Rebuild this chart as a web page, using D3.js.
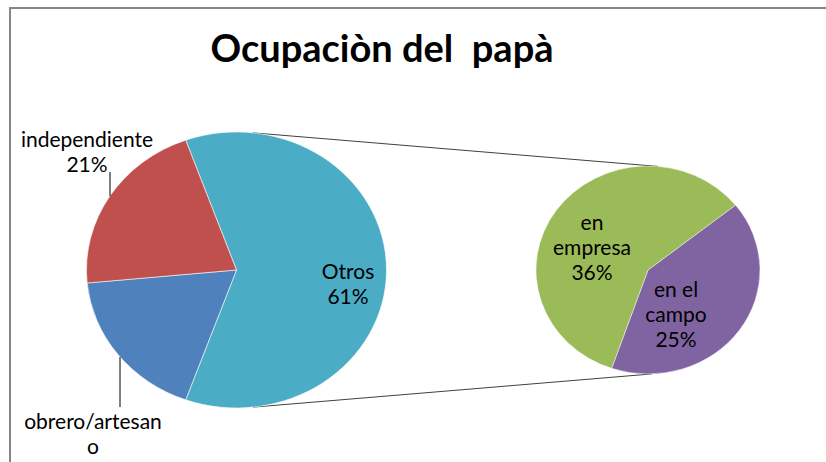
<!DOCTYPE html>
<html lang="es">
<meta charset="utf-8">
<style>
body { margin: 0; background: #fff; }
text { font-family: Lato, "Liberation Sans", sans-serif; fill: #000; }
</style>
<body>
<script src="https://cdnjs.cloudflare.com/ajax/libs/d3/7.8.5/d3.min.js"></script>
<div id="chart"></div>
<script>
// data
var title = "Ocupaciòn del  papà";
var mainNames = ["Otros", "obrero/artesano", "independiente"];
var mainValues = [61, 18, 21];
var subNames = ["en el campo", "en empresa"];
var subValues = [25, 36];

var width = 826, height = 462;
var colors = {
  "Otros": "#4BACC6",
  "obrero/artesano": "#4F81BD",
  "independiente": "#C0504D",
  "en el campo": "#8064A2",
  "en empresa": "#9BBB59"
};
var deg = Math.PI / 180;

var svg = d3.select("#chart").append("svg")
    .attr("width", width)
    .attr("height", height);

// frame
svg.append("path")
    .attr("d", "M10," + height + "V8H" + width)
    .attr("fill", "none")
    .attr("stroke", "#868686")
    .attr("stroke-width", 2);

svg.append("text")
    .attr("x", 382)
    .attr("y", 62)
    .attr("text-anchor", "middle")
    .style("font-size", "38px")
    .style("font-weight", "bold")
    .style("white-space", "pre")
    .text(title);

var main = {cx: 236.5, cy: 270, rx: 150, ry: 138, start: -19.8};
var sub = {cx: 648, cy: 270, rx: 112, ry: 104, start: 51.4};

function ellipsePoint(p, a) {
  return [p.cx + p.rx * Math.sin(a * deg), p.cy - p.ry * Math.cos(a * deg)];
}

// connector lines between the two pies
var links = [[6.3, 5.1], [173.7, 178]];
svg.selectAll(".link").data(links).enter().append("line")
    .attr("class", "link")
    .attr("x1", function(d) { return ellipsePoint(main, d[0])[0]; })
    .attr("y1", function(d) { return ellipsePoint(main, d[0])[1]; })
    .attr("x2", function(d) { return ellipsePoint(sub, d[1])[0]; })
    .attr("y2", function(d) { return ellipsePoint(sub, d[1])[1]; })
    .attr("stroke", "#404040")
    .attr("stroke-width", 1);

function drawPie(p, names, values) {
  var pie = d3.pie().sort(null)
      .startAngle(p.start * deg)
      .endAngle((p.start + 360) * deg);
  var arc = d3.arc().innerRadius(0).outerRadius(100);
  var g = svg.append("g")
      .attr("transform", "translate(" + p.cx + "," + p.cy + ") scale(" + p.rx / 100 + "," + p.ry / 100 + ")");
  g.selectAll("path")
      .data(pie(values))
    .enter().append("path")
      .attr("d", arc)
      .attr("fill", function(d, i) { return colors[names[i]]; })
      .attr("stroke", "#fff")
      .attr("stroke-width", 0.4);
}

drawPie(main, mainNames, mainValues);
drawPie(sub, subNames, subValues);

// leader lines
var leaders = [[110, 172, 196], [120, 357, 407]];
svg.selectAll(".leader").data(leaders).enter().append("line")
    .attr("x1", function(d) { return d[0]; })
    .attr("x2", function(d) { return d[0]; })
    .attr("y1", function(d) { return d[1]; })
    .attr("y2", function(d) { return d[2]; })
    .attr("stroke", "#000")
    .attr("stroke-width", 1);

// data labels: [x, first baseline, lines]
var labels = [
  [87, 147, ["independiente", mainValues[2] + "%"]],
  [93, 429, ["obrero/artesan", "o"]],
  [348, 279, ["Otros", mainValues[0] + "%"]],
  [592, 230, ["en", "empresa", subValues[1] + "%"]],
  [676, 297, ["en el", "campo", subValues[0] + "%"]]
];
var lab = svg.selectAll(".lab").data(labels).enter().append("text")
    .attr("class", "lab")
    .attr("text-anchor", "middle")
    .style("font-size", "21px");
lab.selectAll("tspan")
    .data(function(d) { return d[2].map(function(t, i) { return {x: d[0], y: d[1] + i * 25, t: t}; }); })
  .enter().append("tspan")
    .attr("x", function(d) { return d.x; })
    .attr("y", function(d) { return d.y; })
    .text(function(d) { return d.t; });
</script>
</body>
</html>
